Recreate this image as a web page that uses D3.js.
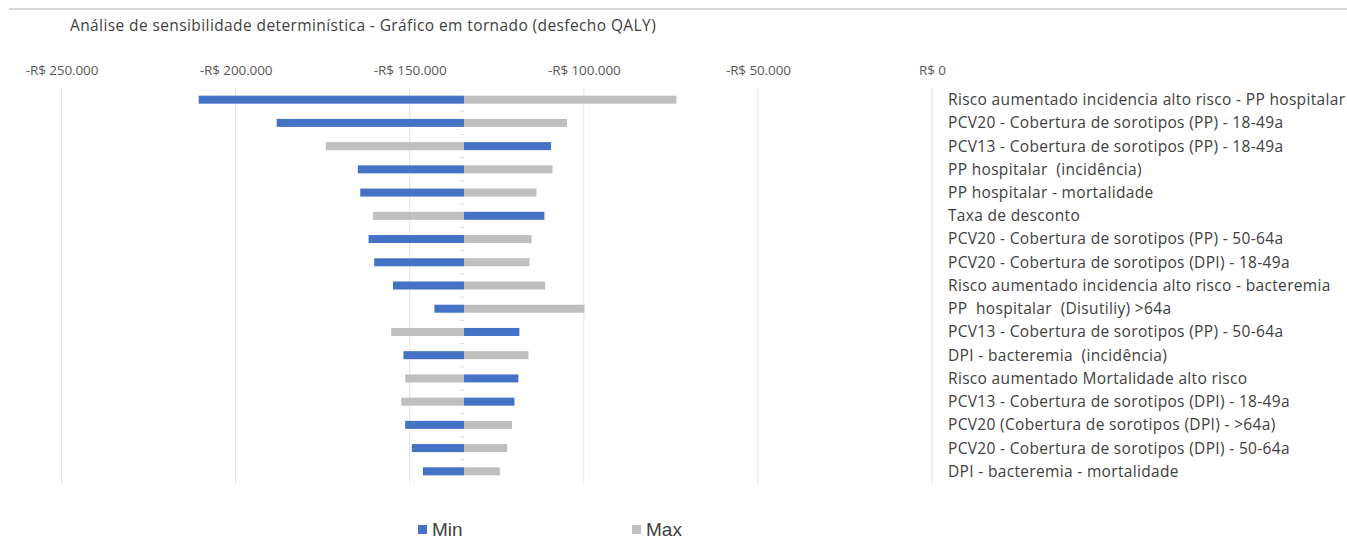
<!DOCTYPE html>
<html>
<head>
<meta charset="utf-8">
<script src="https://cdn.jsdelivr.net/npm/d3@7"></script>
<style>
  html, body { margin: 0; padding: 0; background: #fff; }
  svg { display: block; }
</style>
</head>
<body>
<svg id="chart" width="1347" height="556"></svg>
<script>
const title = "Análise de sensibilidade determinística - Gráfico em tornado (desfecho QALY)";
const categories = [
  "Risco aumentado incidencia alto risco - PP hospitalar",
  "PCV20 - Cobertura de sorotipos (PP) - 18-49a",
  "PCV13 - Cobertura de sorotipos (PP) - 18-49a",
  "PP hospitalar  (incidência)",
  "PP hospitalar - mortalidade",
  "Taxa de desconto",
  "PCV20 - Cobertura de sorotipos (PP) - 50-64a",
  "PCV20 - Cobertura de sorotipos (DPI) - 18-49a",
  "Risco aumentado incidencia alto risco - bacteremia",
  "PP  hospitalar  (Disutiliy) >64a",
  "PCV13 - Cobertura de sorotipos (PP) - 50-64a",
  "DPI - bacteremia  (incidência)",
  "Risco aumentado Mortalidade alto risco",
  "PCV13 - Cobertura de sorotipos (DPI) - 18-49a",
  "PCV20 (Cobertura de sorotipos (DPI) - >64a)",
  "PCV20 - Cobertura de sorotipos (DPI) - 50-64a",
  "DPI - bacteremia - mortalidade"
];
const baseValue = -134400;
const minValues = [-210600, -188200, -109400, -164900, -164200, -111300, -161800, -160200, -154800, -142900, -118500, -151800, -118800, -119900, -151300, -149400, -146200];
const maxValues = [-73400, -104800, -174100, -109000, -113600, -160500, -115000, -115600, -111100, -99800, -155300, -115900, -151300, -152400, -120600, -122000, -124100];
const tickValues = [-250000, -200000, -150000, -100000, -50000, 0];
const seriesNames = ["Min", "Max"];
const seriesColors = ["#4472C4", "#BFBFBF"];

const svg = d3.select("#chart");
const x = d3.scaleLinear().domain([-250000, 0]).range([61.5, 932]);
const y = d3.scaleBand().domain(categories).range([88, 483]).paddingInner(0.655).paddingOuter(0.33);
const band = d3.scaleBand().domain(categories).range([88, 483]);

const fmt = v => (v < 0 ? "-" : "") + "R$ " + (v === 0 ? "0" : d3.format(",")(Math.abs(v)).replace(/,/g, "."));

// top border
svg.append("line").attr("x1", 9).attr("x2", 1347).attr("y1", 9).attr("y2", 9)
  .attr("stroke", "#d9d9d9").attr("stroke-width", 2);

// title
svg.append("text").attr("x", 70).attr("y", 31)
  .attr("font-family", "Open Sans").attr("font-size", 15.5).attr("letter-spacing", 0.4)
  .attr("fill", "#404040")
  .text(title);

// gridlines
svg.append("g").selectAll("line").data(tickValues).join("line")
  .attr("x1", d => x(d)).attr("x2", d => x(d)).attr("y1", 88).attr("y2", 483)
  .attr("stroke", "#e3e3e3").attr("stroke-width", 1);

// top axis labels
const axis = d3.axisTop(x).tickValues(tickValues).tickFormat(fmt).tickSize(0).tickPadding(0);
const gAxis = svg.append("g").attr("transform", "translate(0,75)").style("color", "#595959").call(axis);
gAxis.select(".domain").remove();
gAxis.selectAll("text").attr("font-family", "Open Sans").attr("font-size", 13.5)
  .attr("letter-spacing", -0.1).attr("fill", "#595959");

// category axis ticks at base value
svg.append("g").selectAll("line").data(categories.slice(1)).join("line")
  .attr("x1", x(baseValue) - 4).attr("x2", x(baseValue))
  .attr("y1", d => band(d)).attr("y2", d => band(d))
  .attr("stroke", "#d9d9d9");

// bars
const rows = categories.map((c, i) => ({c, min: minValues[i], max: maxValues[i]}));
const bars = svg.append("g");
[["min", 0], ["max", 1]].forEach(([key, si]) => {
  bars.selectAll("rect." + key).data(rows).join("rect").attr("class", key)
    .attr("x", d => Math.min(x(d[key]), x(baseValue)))
    .attr("width", d => Math.abs(x(d[key]) - x(baseValue)))
    .attr("y", d => y(d.c))
    .attr("height", y.bandwidth())
    .attr("fill", seriesColors[si]);
});

// category labels
svg.append("g").selectAll("text").data(categories).join("text")
  .attr("x", 948).attr("y", d => band(d) + band.bandwidth() / 2)
  .attr("dy", "0.35em")
  .attr("font-family", "Open Sans").attr("font-size", 15.5).attr("letter-spacing", 0.33)
  .attr("fill", "#404040")
  .attr("xml:space", "preserve").style("white-space", "pre")
  .text(d => d);

// legend
const legendX = [418, 632];
const lg = svg.append("g").selectAll("g").data(seriesNames).join("g")
  .attr("transform", (d, i) => `translate(${legendX[i]},525)`);
lg.append("rect").attr("width", 9).attr("height", 9).attr("fill", (d, i) => seriesColors[i]);
lg.append("text").attr("x", 14).attr("y", 4.5).attr("dy", "0.36em")
  .attr("font-family", "Liberation Sans").attr("font-size", 19).attr("fill", "#404040")
  .text(d => d);
</script>
</body>
</html>
